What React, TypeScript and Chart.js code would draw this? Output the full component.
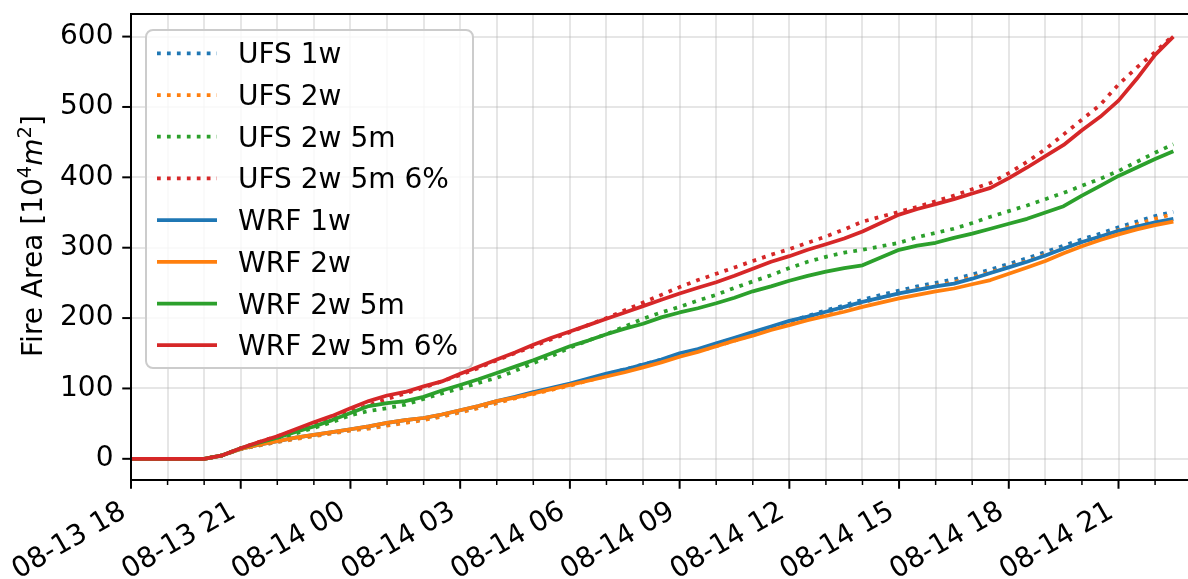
import React, { useEffect, useRef } from "react";
import { Chart, registerables } from "chart.js";

Chart.register(...registerables);

// Hours since 08-13 18:00
const hours = [
  0, 0.5, 1, 1.5, 2, 2.5, 3, 3.5, 4, 4.5, 5, 5.5, 6, 6.5, 7, 7.5, 8, 8.5, 9, 9.5,
  10, 10.5, 11, 11.5, 12, 12.5, 13, 13.5, 14, 14.5, 15, 15.5, 16, 16.5, 17, 17.5,
  18, 18.5, 19, 19.5, 20, 20.5, 21, 21.5, 22, 22.5, 23, 23.5, 24, 24.5, 25, 25.5,
  26, 26.5, 27, 27.5, 28, 28.5,
];

const ufs1w = [
  0, 0, 0, 0, 0, 5, 14, 19, 24, 29, 33, 37, 41, 44, 48, 52, 56, 61, 67, 73, 80, 87,
  94, 100, 106, 113, 120, 127, 134, 141, 148, 155, 163, 171, 179, 187, 195, 203,
  211, 218, 226, 233, 239, 245, 250, 255, 262, 269, 277, 285, 294, 303, 312, 320,
  329, 337, 345, 351,
];
const ufs2w = [
  0, 0, 0, 0, 0, 5, 14, 19, 24, 28, 32, 36, 40, 43, 47, 51, 55, 60, 66, 72, 79, 86,
  92, 98, 104, 111, 118, 125, 132, 139, 146, 153, 160, 168, 176, 184, 192, 200,
  208, 215, 222, 229, 235, 241, 246, 251, 258, 265, 273, 281, 290, 299, 308, 316,
  325, 333, 341, 348,
];
const ufs2w5m = [
  0, 0, 0, 0, 0, 5, 15, 22, 29, 36, 44, 52, 62, 68, 72, 77, 85, 93, 100, 108, 115,
  125, 136, 146, 158, 168, 177, 188, 199, 208, 216, 225, 233, 243, 252, 261, 271,
  280, 287, 293, 297, 302, 307, 315, 321, 327, 335, 344, 352, 360, 369, 378, 388,
  398, 409, 422, 435, 447,
];
const ufs2w5m6 = [
  0, 0, 0, 0, 0, 5, 15, 24, 32, 41, 50, 58, 67, 76, 85, 93, 101, 110, 119, 129, 140,
  150, 160, 170, 180, 190, 200, 211, 222, 233, 244, 254, 263, 272, 281, 290, 298,
  307, 316, 326, 337, 344, 351, 358, 366, 374, 383, 392, 406, 422, 440, 461, 482,
  503, 532, 556, 578, 602,
];
const wrf1w = [
  0, 0, 0, 0, 0, 5, 14, 20, 25, 30, 34, 38, 42, 46, 51, 55, 58, 63, 69, 75, 82, 88,
  95, 101, 107, 114, 121, 127, 134, 141, 150, 156, 164, 172, 180, 188, 196, 202,
  209, 216, 223, 229, 235, 240, 245, 249, 256, 264, 272, 280, 289, 299, 308, 316,
  324, 330, 336, 341,
];
const wrf2w = [
  0, 0, 0, 0, 0, 5, 14, 20, 25, 30, 34, 38, 42, 46, 51, 55, 58, 63, 69, 75, 82, 87,
  93, 99, 105, 111, 117, 123, 130, 137, 145, 152, 160, 168, 175, 183, 190, 197,
  203, 209, 216, 222, 228, 233, 238, 242, 248, 254, 263, 272, 281, 292, 302, 311,
  319, 326, 332, 337,
];
const wrf2w5m = [
  0, 0, 0, 0, 0, 5, 15, 23, 30, 38, 46, 55, 65, 75, 79, 82, 88, 97, 105, 113, 122,
  131, 140, 150, 160, 168, 177, 185, 192, 201, 208, 214, 221, 229, 238, 245, 253,
  260, 266, 271, 275, 286, 297, 303, 307, 314, 320, 327, 334, 341, 350, 359, 374,
  388, 402, 414, 426, 437,
];
const wrf2w5m6 = [
  0, 0, 0, 0, 0, 5, 15, 24, 32, 42, 52, 61, 72, 82, 90, 95, 103, 110, 121, 131, 141,
  151, 162, 172, 181, 190, 199, 208, 217, 226, 235, 243, 251, 260, 270, 280, 288,
  297, 305, 313, 323, 335, 347, 355, 362, 369, 377, 385, 399, 414, 430, 446, 467,
  486, 509, 540, 574, 600,
];

const seriesNames = [
  "UFS 1w", "UFS 2w", "UFS 2w 5m", "UFS 2w 5m 6%",
  "WRF 1w", "WRF 2w", "WRF 2w 5m", "WRF 2w 5m 6%",
];
const seriesColors = ["#1f77b4", "#ff7f0e", "#2ca02c", "#d62728", "#1f77b4", "#ff7f0e", "#2ca02c", "#d62728"];
const seriesDotted = [true, true, true, true, false, false, false, false];
const seriesValues = [ufs1w, ufs2w, ufs2w5m, ufs2w5m6, wrf1w, wrf2w, wrf2w5m, wrf2w5m6];

const xMajorHours = [0, 3, 6, 9, 12, 15, 18, 21, 24, 27];
const xTickLabels = [
  "08-13 18", "08-13 21", "08-14 00", "08-14 03", "08-14 06",
  "08-14 09", "08-14 12", "08-14 15", "08-14 18", "08-14 21",
];
const xMinorHours = [
  0, 1, 2, 3, 4, 5, 6, 7, 8, 9, 10, 11, 12, 13, 14, 15, 16, 17, 18, 19, 20, 21,
  22, 23, 24, 25, 26, 27, 28,
];
const yTicks = [0, 100, 200, 300, 400, 500, 600];

const FONT = '"DejaVu Sans"';
const FS = 28;
const LW = 3.75;
const DOT = [3.75, 6.2];

const decorPlugin = {
  id: "decor",
  afterDraw(chart: any) {
    const ctx: CanvasRenderingContext2D = chart.ctx;
    const area = chart.chartArea;
    const xs = chart.scales.x;
    const ys = chart.scales.y;
    ctx.save();
    // ticks
    ctx.strokeStyle = "#000";
    xMinorHours.forEach((h) => {
      if (xMajorHours.includes(h)) return;
      const px = xs.getPixelForValue(h);
      ctx.lineWidth = 1.5;
      ctx.beginPath();
      ctx.moveTo(px, area.bottom);
      ctx.lineTo(px, area.bottom + 5);
      ctx.stroke();
    });
    xMajorHours.forEach((h) => {
      const px = xs.getPixelForValue(h);
      ctx.lineWidth = 2;
      ctx.beginPath();
      ctx.moveTo(px, area.bottom);
      ctx.lineTo(px, area.bottom + 8.75);
      ctx.stroke();
    });
    yTicks.forEach((v) => {
      const py = ys.getPixelForValue(v);
      ctx.lineWidth = 2;
      ctx.beginPath();
      ctx.moveTo(area.left, py);
      ctx.lineTo(area.left - 8.75, py);
      ctx.stroke();
    });
    // spines
    ctx.lineWidth = 2;
    ctx.beginPath();
    ctx.moveTo(area.right + 2, area.top);
    ctx.lineTo(area.left, area.top);
    ctx.lineTo(area.left, area.bottom);
    ctx.lineTo(area.right + 2, area.bottom);
    ctx.stroke();

    // x tick labels (rotated 30deg, right aligned at tick)
    ctx.fillStyle = "#000";
    ctx.font = `${FS}px ${FONT}`;
    ctx.textAlign = "right";
    ctx.textBaseline = "alphabetic";
    xMajorHours.forEach((h, i) => {
      const px = xs.getPixelForValue(h);
      ctx.save();
      ctx.translate(px - 3.5, area.bottom + 36);
      ctx.rotate(-Math.PI / 6);
      ctx.fillText(xTickLabels[i], 0, 0);
      ctx.restore();
    });

    // y title with math parts
    const pieces = [
      { t: "Fire Area [", f: `${FS}px ${FONT}`, dy: 0 },
      { t: "10", f: `${FS}px ${FONT}`, dy: 0 },
      { t: "4", f: `${FS * 0.7}px ${FONT}`, dy: -11 },
      { t: "m", f: `italic ${FS}px ${FONT}`, dy: 0 },
      { t: "2", f: `${FS * 0.7}px ${FONT}`, dy: -11 },
      { t: "]", f: `${FS}px ${FONT}`, dy: 0 },
    ];
    let total = 0;
    pieces.forEach((p) => {
      ctx.font = p.f;
      total += ctx.measureText(p.t).width;
    });
    ctx.save();
    ctx.translate(42, 236);
    ctx.rotate(-Math.PI / 2);
    ctx.textAlign = "left";
    let cx = -total / 2;
    pieces.forEach((p) => {
      ctx.font = p.f;
      ctx.fillText(p.t, cx, p.dy);
      cx += ctx.measureText(p.t).width;
    });
    ctx.restore();

    // legend
    const L = { x: 146, y: 30, w: 327, h: 338, r: 7 };
    ctx.beginPath();
    ctx.moveTo(L.x + L.r, L.y);
    ctx.lineTo(L.x + L.w - L.r, L.y);
    ctx.arcTo(L.x + L.w, L.y, L.x + L.w, L.y + L.r, L.r);
    ctx.lineTo(L.x + L.w, L.y + L.h - L.r);
    ctx.arcTo(L.x + L.w, L.y + L.h, L.x + L.w - L.r, L.y + L.h, L.r);
    ctx.lineTo(L.x + L.r, L.y + L.h);
    ctx.arcTo(L.x, L.y + L.h, L.x, L.y + L.h - L.r, L.r);
    ctx.lineTo(L.x, L.y + L.r);
    ctx.arcTo(L.x, L.y, L.x + L.r, L.y, L.r);
    ctx.closePath();
    ctx.fillStyle = "rgba(255,255,255,0.8)";
    ctx.fill();
    ctx.strokeStyle = "#cccccc";
    ctx.lineWidth = 2;
    ctx.stroke();

    ctx.font = `${FS}px ${FONT}`;
    ctx.textAlign = "left";
    seriesNames.forEach((name, i) => {
      const cy = 53.3 + i * 41.7;
      ctx.strokeStyle = seriesColors[i];
      ctx.lineWidth = LW;
      ctx.lineCap = "butt";
      ctx.setLineDash(seriesDotted[i] ? DOT : []);
      ctx.beginPath();
      ctx.moveTo(157, cy);
      ctx.lineTo(217, cy);
      ctx.stroke();
      ctx.setLineDash([]);
      ctx.fillStyle = "#000";
      ctx.fillText(name, 238, cy + 10);
    });
    ctx.restore();
  },
};

export default function App() {
  const ref = useRef<HTMLCanvasElement>(null);
  useEffect(() => {
    document.body.style.margin = "0";
    Chart.defaults.font.family = FONT;
    const datasets = seriesNames.map((name, i) => ({
      label: name,
      data: hours.map((h, j) => ({ x: h, y: seriesValues[i][j] })),
      borderColor: seriesColors[i],
      backgroundColor: seriesColors[i],
      borderWidth: LW,
      borderDash: seriesDotted[i] ? DOT : [],
      borderCapStyle: "butt" as const,
      borderJoinStyle: "round" as const,
      pointRadius: 0,
      tension: 0,
      fill: false,
      order: 8 - i,
    }));
    const chart = new Chart(ref.current!, {
      type: "line",
      data: { datasets },
      options: {
        animation: false,
        responsive: false,
        devicePixelRatio: 1,
        layout: { padding: { top: 14, left: 0, right: 0, bottom: 0 } },
        plugins: { legend: { display: false }, tooltip: { enabled: false } },
        scales: {
          x: {
            type: "linear",
            min: 0,
            max: 28.9,
            afterBuildTicks: (s: any) => {
              s.ticks = xMinorHours.map((v) => ({ value: v }));
            },
            afterFit: (s: any) => {
              s.height = 99;
              s.paddingLeft = 0;
              s.paddingRight = 0;
            },
            ticks: { display: false },
            grid: { color: "rgba(176,176,176,0.32)", lineWidth: 2, drawTicks: false },
            border: { display: false },
          },
          y: {
            type: "linear",
            min: -30.1,
            max: 632.1,
            afterBuildTicks: (s: any) => {
              s.ticks = yTicks.map((v) => ({ value: v }));
            },
            afterFit: (s: any) => {
              s.width = 131;
              s.paddingTop = 0;
              s.paddingBottom = 0;
            },
            ticks: {
              color: "#000",
              font: { size: FS, family: FONT },
              padding: 17.5,
            },
            grid: { color: "rgba(176,176,176,0.32)", lineWidth: 2, drawTicks: false },
            border: { display: false },
          },
        },
      },
      plugins: [decorPlugin],
    });
    return () => chart.destroy();
  }, []);
  return (
    <div style={{ width: 1188, height: 579, overflow: "hidden", background: "#fff" }}>
      <canvas ref={ref} width={1188} height={579} style={{ display: "block" }} />
    </div>
  );
}
